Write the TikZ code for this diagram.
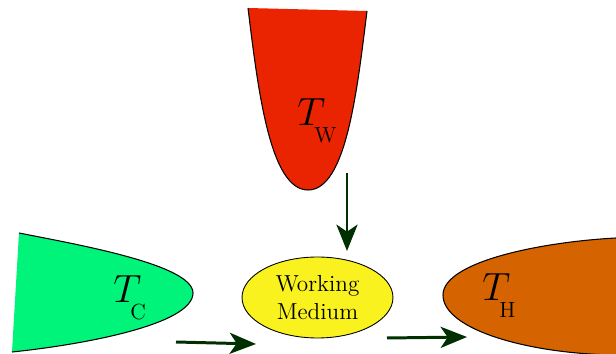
\documentclass[tikz,border=0pt]{standalone}
\usepackage{graphicx}
\usepackage{tikz}
\usetikzlibrary{shapes.geometric, arrows.meta, positioning, calc}
\definecolor{warmred}{RGB}{234,35,0}
\definecolor{coldgreen}{RGB}{0,244,122}
\definecolor{hotorange}{RGB}{212,99,0}
\definecolor{mediumyellow}{RGB}{250,242,30}
\definecolor{flowgreen}{RGB}{0,48,0}
% reservoir temperature with a low-set subscript
\newcommand{\restemp}[1]{\scalebox{1.08}{$T$}\kern-6.2pt\raisebox{-9.6pt}{\fontsize{12.5}{14}\selectfont #1}}

\begin{document}
\begin{tikzpicture}[x=0.02cm, y=-0.02cm,
    edge/.style={line width=0.6pt, black},
    templabel/.style={inner sep=0pt, anchor=base west, font=\fontsize{20.74}{26}\selectfont},
    flow/.style={line width=1.7pt, flowgreen, -{Stealth[length=15pt, width=12pt, inset=4pt]}}]
    \clip (0,0) rectangle (616,354);

    % reservoirs
    \fill[warmred] (248,8) .. controls (258,90) and (270,190) .. (308,190)
        .. controls (346,190) and (357,92) .. (367,11) -- cycle;
    \draw[edge] (248,8) .. controls (258,90) and (270,190) .. (308,190)
        .. controls (346,190) and (357,92) .. (367,11);

    \fill[coldgreen] (19,233) .. controls (80,245) and (193,265) .. (193,293)
        .. controls (193,325) and (80,345) .. (12,352) -- cycle;
    \draw[edge] (19,233) .. controls (80,245) and (193,265) .. (193,293)
        .. controls (193,325) and (80,345) .. (12,352);

    \fill[hotorange] (616,238) .. controls (540,242) and (443,262) .. (443,295)
        .. controls (443,330) and (530,354) .. (616,355) -- cycle;
    \draw[edge] (616,238) .. controls (540,242) and (443,262) .. (443,295)
        .. controls (443,330) and (530,354) .. (616,355);

    \node[templabel] (TW) at (297,126) {\restemp{W}};
    \node[templabel] (TC) at (113,303) {\restemp{C}};
    \node[templabel] (TH) at (482,301) {\restemp{H}};

    % working medium
    \node[ellipse, draw, line width=0.5pt, fill=mediumyellow, inner sep=0pt,
        minimum width=3.02cm, minimum height=1.62cm, align=center,
        font=\fontsize{13.2}{16.4}\selectfont] (medium) at (317.5,297.5) {Working\\Medium};

    % heat flow
    \coordinate (wout) at (347,173);
    \coordinate (win) at (347,251);
    \coordinate (cout) at (176,342);
    \coordinate (cin) at (256,344);
    \coordinate (hout) at (387,338);
    \coordinate (hin) at (467,337);
    \draw[flow] (wout) -- (win);
    \draw[flow] (cout) -- (cin);
    \draw[flow] (hout) -- (hin);
\end{tikzpicture}
\end{document}
